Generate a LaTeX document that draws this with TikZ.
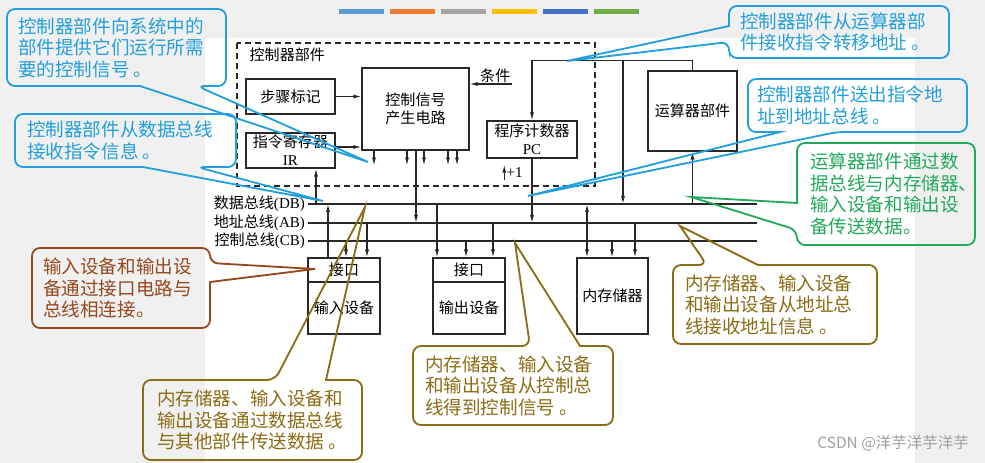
\documentclass[tikz,border=0pt]{standalone}
\usepackage{fontspec}
\setmainfont{Noto Sans CJK SC}
\newfontfamily\serifrm{Liberation Serif}
\usetikzlibrary{arrows.meta, positioning, calc}

\definecolor{bggray}{RGB}{240,240,240}
\definecolor{linegray}{RGB}{40,40,40}
\definecolor{calblue}{RGB}{35,160,220}
\definecolor{calgreen}{RGB}{34,170,90}
\definecolor{calbrown}{RGB}{150,72,30}
\definecolor{calolive}{RGB}{140,108,20}
\definecolor{barA}{RGB}{91,155,213}
\definecolor{barB}{RGB}{237,125,49}
\definecolor{barC}{RGB}{165,165,165}
\definecolor{barD}{RGB}{255,192,0}
\definecolor{barE}{RGB}{68,114,196}
\definecolor{barF}{RGB}{112,173,71}

\newcommand\diagfont{\fontsize{10.7}{12.8}\selectfont}
\newcommand\calfont{\fontsize{13.2}{15.3}\selectfont}

\begin{document}
\begin{tikzpicture}[x=0.25mm, y=-0.25mm,
  blk/.style={draw=linegray, line width=0.8pt, inner sep=0pt, align=center, font=\diagfont},
  bus/.style={draw=linegray, line width=0.8pt},
  arr/.style={draw=linegray, line width=0.8pt, -{Latex[length=2mm,width=1mm]}},
  arrboth/.style={draw=linegray, line width=0.8pt, {Latex[length=2mm,width=1mm]}-{Latex[length=2mm,width=1mm]}},
  callout/.style={draw=#1, line width=1.3pt, rounded corners=2mm},
  ctext/.style={anchor=west, align=left, inner sep=0pt, font=\calfont, text=#1},
]
  \useasboundingbox (0,0) rectangle (985,463);
  \fill[bggray] (0,0) rectangle (985,463);
  \fill[white] (205,38) rectangle (915,463);

  % colour bars
  \foreach \c [count=\i from 0] in {barA,barB,barC,barD,barE,barF}
    \fill[\c] (339+51*\i,9.5) rectangle ++(45,4.5);

  % control unit
  \draw[linegray, line width=0.8pt, dash pattern=on 4.3pt off 2.8pt] (237,43) rectangle (595,186);
  \node[anchor=west, font=\diagfont, inner sep=1pt] (cutitle) at (248,55) {控制器部件};

  \node[blk, minimum width=22.25mm, minimum height=8.75mm] (step) at (290.5,96.5) {步骤标记};
  \node[blk, minimum width=22.25mm, minimum height=8.75mm] (ir) at (290.5,150.5) {指令寄存器\\{\serifrm IR}};
  \node[blk, minimum width=26.75mm, minimum height=20.5mm] (sig) at (415.5,109) {控制信号\\产生电路};
  \node[blk, minimum width=22.5mm, minimum height=9.25mm] (pc) at (532,139.5) {程序计数器\\{\serifrm PC}};
  \node[blk, minimum width=22.25mm, minimum height=20mm] (alu) at (692.5,111) {运算器部件};

  % devices
  \node[blk, minimum width=18mm, minimum height=6mm] (inif) at (344,270) {接口};
  \node[blk, minimum width=18mm, minimum height=13mm] (indev) at (344,308) {输入设备};
  \node[blk, minimum width=18mm, minimum height=6mm] (outif) at (469,270) {接口};
  \node[blk, minimum width=18mm, minimum height=13mm] (outdev) at (469,308) {输出设备};
  \node[blk, minimum width=17.75mm, minimum height=19mm] (mem) at (612.5,296) {内存储器};

  % buses
  \coordinate (db) at (308,204);
  \coordinate (ab) at (308,223);
  \coordinate (cb) at (308,241);
  \foreach \b/\t/\s in {db/数据总线/DB, ab/地址总线/AB, cb/控制总线/CB} {
    \draw[bus] (\b) -- ++(449,0);
    \node[anchor=east, font=\diagfont, inner sep=2pt] (\b label) at (\b) {\t{\serifrm(\s)}};
  }

  % inside the control unit
  \draw[arr] (step.east) -- (step -| sig.west);
  \draw[arr] (ir.east |- 0,147) -- (sig.west |- 0,147);
  \node[font=\diagfont, anchor=south east, inner sep=1pt] (cond) at (512,84) {条件};
  \draw[arr] (cond.south east) -- (cond.south east -| sig.east);
  \foreach \x in {374,407,424,448,457}
    \draw[arr] (\x,0 |- sig.south) -- ++(0,15);
  \node[font=\serifrm\diagfont, anchor=west, inner sep=1pt] (inc) at (505,173) {+1};
  \draw[arr] ([xshift=-0.5pt]inc.south west) -- ++(0,-15);

  % to and from the buses
  \draw[arr] (416,0 |- sig.south) -- (416,0 |- ab);
  \draw[arr] (316,0 |- db) -- (316,0 |- ir.south);
  \draw[arr] (alu.north) -- ++(0,-10) -| (pc.north);
  \draw[arr] (623,61) -- (623,0 |- db);
  \draw[arr] (pc.south) -- (pc.south |- ab);
  \draw[arr] (alu.south |- db) -- (alu.south);

  \draw[arr] (328,0 |- inif.north) -- (328,0 |- db);
  \draw[arr] (346,0 |- cb) -- (346,0 |- inif.north);
  \draw[arr] (367,0 |- ab) -- (367,0 |- inif.north);
  \draw[arr] (437,0 |- db) -- (437,0 |- outif.north);
  \draw[arr] (466,0 |- cb) -- (466,0 |- outif.north);
  \draw[arr] (493,0 |- ab) -- (493,0 |- outif.north);
  \draw[arrboth] (587,0 |- db) -- (587,0 |- mem.north);
  \draw[arr] (612,0 |- cb) -- (612,0 |- mem.north);
  \draw[arr] (635,0 |- ab) -- (635,0 |- mem.north);

  % callout tips
  \coordinate (tipsig) at (368,162);
  \coordinate (tipir) at (323,201);
  \coordinate (tipjmp) at (567,61);
  \coordinate (tippc) at (528,196);
  \coordinate (tipalu) at (691,197);
  \coordinate (tipif) at (315,269);
  \coordinate (tipdb) at (365,207);
  \coordinate (tipcb) at (515,243);
  \coordinate (tipab) at (680,226);

  % blue callouts
  \draw[callout=calblue] (7,9) -- (226,9) -- (226,86) -- (197,86) [sharp corners] -- (tipsig) -- (140,86) [rounded corners=2mm] -- (7,86) -- cycle;
  \node[ctext=calblue] (c1) at (18,47.5) {控制器部件向系统中的\\部件提供它们运行所需\\要的控制信号 。};

  \draw[callout=calblue] (15,114) -- (236,114) -- (236,167) -- (197,167) [sharp corners] -- (tipir) -- (143,167) [rounded corners=2mm] -- (15,167) -- cycle;
  \node[ctext=calblue] (c2) at (27,140.5) {控制器部件从数据总线\\接收指令信息 。};

  \draw[callout=calblue] (729,6) -- (949,6) -- (949,58) -- (729,58) -- (729,42) [sharp corners] -- (tipjmp) -- (729,26) [rounded corners=2mm] -- cycle;
  \node[ctext=calblue] (c3) at (740,32) {控制器部件从运算器部\\件接收指令转移地址 。};

  \draw[callout=calblue] (748,79) -- (967,79) -- (967,132) -- (837,132) [sharp corners] -- (tippc) -- (780,132) [rounded corners=2mm] -- (748,132) -- cycle;
  \node[ctext=calblue] (c4) at (757,105.5) {控制器部件送出指令地\\址到地址总线 。};

  % green callout
  \draw[callout=calgreen] (797,143) -- (975,143) -- (975,245) -- (797,245) -- (797,230) [sharp corners] -- (tipalu) -- (797,203) [rounded corners=2mm] -- cycle;
  \node[ctext=calgreen] (c5) at (810,194) {运算器部件通过数\\据总线与内存储器、\\输入设备和输出设\\备传送数据。};

  % brown callout
  \draw[callout=calbrown] (32,248) -- (210,248) -- (210,263) [sharp corners] -- (tipif) -- (210,282) [rounded corners=2mm] -- (210,328) -- (32,328) -- cycle;
  \node[ctext=calbrown] (c6) at (43,288) {输入设备和输出设\\备通过接口电路与\\总线相连接。};

  % olive callouts
  \draw[callout=calolive] (143,380) -- (275,380) [sharp corners] -- (tipdb) -- (326,380) [rounded corners=2mm] -- (362,380) -- (362,460) -- (143,460) -- cycle;
  \node[ctext=calolive] (c7) at (157,420) {内存储器、输入设备和\\输出设备通过数据总线\\与其他部件传送数据 。};

  \draw[callout=calolive] (413,346) -- (530,346) [sharp corners] -- (tipcb) -- (580,346) [rounded corners=2mm] -- (613,346) -- (613,425) -- (413,425) -- cycle;
  \node[ctext=calolive] (c8) at (425,385.5) {内存储器、输入设备\\和输出设备从控制总\\线得到控制信号 。};

  \draw[callout=calolive] (673,265) -- (707,265) [sharp corners] -- (tipab) -- (758,265) [rounded corners=2mm] -- (877,265) -- (877,344) -- (673,344) -- cycle;
  \node[ctext=calolive] (c9) at (685,304.5) {内存储器、输入设备\\和输出设备从地址总\\线接收地址信息 。};

  % watermark
  \node[anchor=east, text=gray!75, font=\fontsize{11}{13}\selectfont, inner sep=0pt] (mark) at (969,443) {CSDN @洋芋洋芋洋芋};
\end{tikzpicture}
\end{document}
